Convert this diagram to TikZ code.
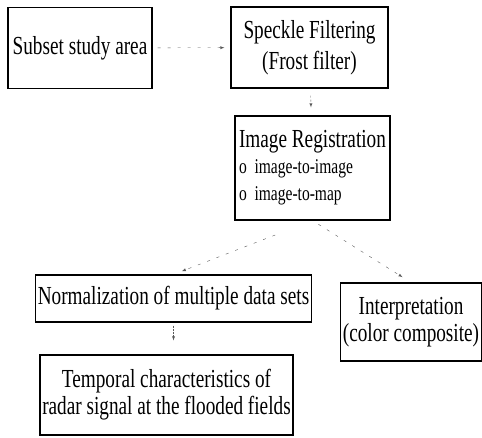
\documentclass[tikz,border=0pt]{standalone}
\usepackage{fontspec}
\setmainfont{Liberation Serif}[FakeStretch=0.74]
\usetikzlibrary{positioning}

\tikzset{
box/.style={draw, line width=1.1pt, align=center, inner sep=2pt,
  font=\fontsize{26}{27}\selectfont},
flow/.style={-latex, gray!70!black, dashed, dash pattern=on 3pt off 7pt},
}

\begin{document}
\begin{tikzpicture}[x=1pt,y=-1pt]

\useasboundingbox
(0,0)
rectangle
(482,437);

\node[box, minimum width=144pt, minimum height=81pt]
(subset)
at (80,48)
{Subset study area};

\node[box, minimum width=157pt, minimum height=81pt,
  font=\fontsize{26}{31}\selectfont]
(speckle)
at (309.5,47.5)
{Speckle Filtering\\(Frost filter)};

\node[box, minimum width=155pt, minimum height=104pt, align=left]
(imgreg)
at (312.5,168)
{Image Registration\\[-1pt]
{\fontsize{21}{25}\selectfont o\ \ image-to-image}\\
{\fontsize{21}{25}\selectfont o\ \ image-to-map}};

\node[box, minimum width=275pt, minimum height=47pt]
(norm)
at (173.5,298.5)
{Normalization of multiple data sets};

\node[box, minimum width=140pt, minimum height=78pt]
(interp)
at (411,322)
{Interpretation\\(color composite)};

\node[box, minimum width=253pt, minimum height=80pt]
(temporal)
at (166.5,395)
{Temporal characteristics of\\radar signal at the flooded fields};

% connectors
\draw[flow, shorten <=5pt, shorten >=6pt]
(subset)
--
(speckle);

\draw[flow, dash pattern=on 2pt off 2pt, shorten <=7pt, shorten >=8pt]
(speckle)
--
(imgreg);

\draw[flow, shorten <=40pt, shorten >=9pt]
(imgreg.south)
--
(norm.north);

\draw[flow, shorten <=7pt, shorten >=10pt]
(imgreg.south)
--
(interp.north);

\draw[flow, dash pattern=on 2pt off 1pt, shorten <=3pt, shorten >=14pt]
(norm.south)
--
(norm.south |- temporal.north);

\end{tikzpicture}
\end{document}
